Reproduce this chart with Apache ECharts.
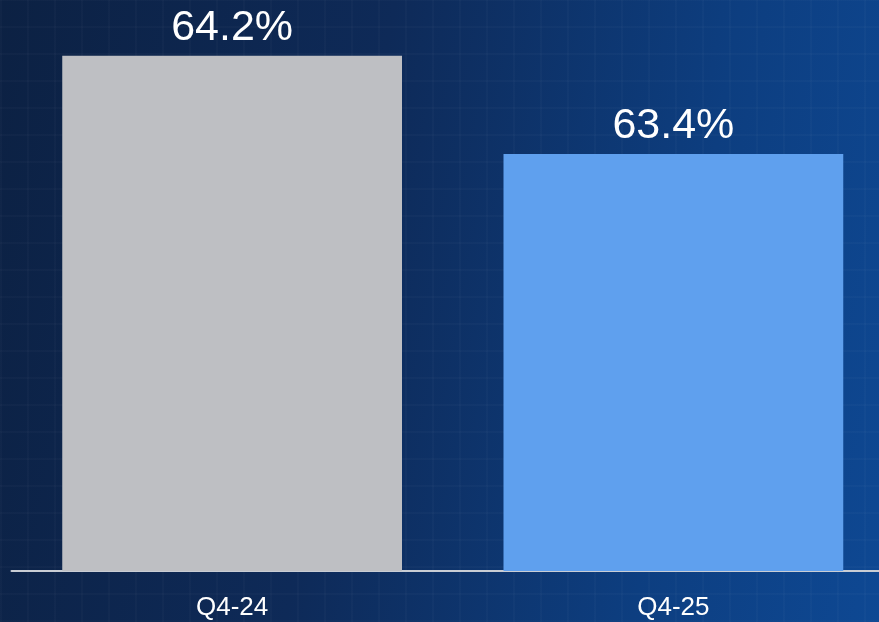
<!DOCTYPE html>
<html>
<head>
<meta charset="utf-8">
<script src="https://cdn.jsdelivr.net/npm/echarts@6/dist/echarts.min.js"></script>
<style>
  html, body { margin: 0; padding: 0; overflow: hidden; }
  #wrap {
    width: 879px; height: 622px; overflow: hidden;
    background:
      repeating-linear-gradient(0deg, rgba(255,255,255,0.02) 0 2px, transparent 2px 27px),
      repeating-linear-gradient(90deg, rgba(255,255,255,0.02) 0 2px, transparent 2px 27px),
      linear-gradient(100deg, #0c2143 0%, #0e2a58 40%, #0d3e80 75%, #0e4893 100%);
  }
  #main { width: 894px; height: 622px; }
</style>
</head>
<body>
<div id="wrap"><div id="main"></div></div>
<script>
const categories = ['Q4-24', 'Q4-25']
const values = [64.2, 63.4]
const barColors = ['#bebfc3', '#5fa0ee']

const chart = echarts.init(document.getElementById('main'))
chart.setOption({
  backgroundColor: 'transparent',
  animation: false,
  grid: { left: 11.5, right: 0, top: 19, bottom: 51 },
  xAxis: {
    type: 'category',
    data: categories,
    axisTick: { show: false },
    axisLine: { lineStyle: { color: '#c9cdd4', width: 2 } },
    axisLabel: {
      color: '#ffffff',
      fontSize: 26,
      fontFamily: 'Liberation Sans',
      margin: 24
    }
  },
  yAxis: {
    type: 'value',
    min: 60,
    max: 64.5,
    show: false,
    splitLine: { show: false }
  },
  series: [{
    type: 'bar',
    barCategoryGap: '23%',
    data: values.map((v, i) => ({ value: v, itemStyle: { color: barColors[i] } })),
    label: {
      show: true,
      position: 'top',
      distance: 6,
      color: '#ffffff',
      fontSize: 43,
      fontFamily: 'Liberation Sans',
      formatter: p => p.value.toFixed(1) + '%'
    }
  }]
})
</script>
</body>
</html>
